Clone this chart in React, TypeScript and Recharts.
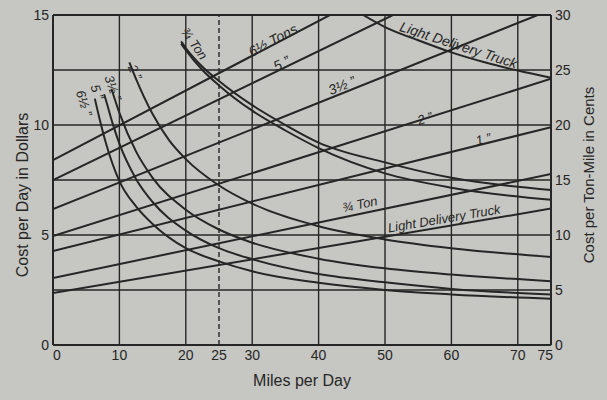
import React from 'react';
import { LineChart, Line, XAxis, YAxis, ReferenceLine, ReferenceDot } from 'recharts';

const INK = '#262626';
const PAPER = '#c6c7c2';
const FONT = '"Liberation Sans", "DejaVu Sans", sans-serif';

if (typeof document !== 'undefined') {
  document.body.style.margin = '0';
  document.body.style.background = PAPER;
}

// x axis: miles per day
const milesTicks = [0, 10, 20, 25, 30, 40, 50, 60, 70, 75];
const milesGrid = [10, 20, 30, 40, 50, 60, 70];
const milesDashed = [25];
// left axis: cost per day in dollars
const dollarTicks = [0, 5, 10, 15];
const dollarGrid = [2.5, 5, 7.5, 10, 12.5, 15];
// right axis: cost per ton-mile in cents
const centTicks = [0, 5, 10, 15, 20, 25, 30];

// Cost per day (dollars) — straight lines
const dayTons6h = [{ m: 0, v: 8.4 }, { m: 41.7, v: 15 }];
const dayTons5 = [{ m: 0, v: 7.5 }, { m: 51.2, v: 15 }];
const dayTons3h = [{ m: 0, v: 6.18 }, { m: 73, v: 15 }];
const dayTons2 = [{ m: 0, v: 4.95 }, { m: 75, v: 12.1 }];
const dayTons1 = [{ m: 0, v: 4.27 }, { m: 75, v: 9.9 }];
const dayTons34 = [{ m: 0, v: 3.05 }, { m: 75, v: 7.77 }];
const dayLDT = [{ m: 0, v: 2.36 }, { m: 75, v: 6.2 }];

// Cost per ton-mile (cents) — curves
const tmTons6h = [
  { m: 6.3, v: 22.4 }, { m: 7, v: 20.6 }, { m: 8, v: 18.3 }, { m: 10, v: 14.9 },
  { m: 12.5, v: 12.6 }, { m: 15, v: 11.0 }, { m: 20, v: 8.8 }, { m: 25, v: 7.6 },
  { m: 30, v: 6.7 }, { m: 40, v: 5.65 }, { m: 50, v: 5.0 }, { m: 60, v: 4.6 }, { m: 75, v: 4.2 },
];
const tmTons5 = [
  { m: 7.7, v: 22.8 }, { m: 8, v: 22.2 }, { m: 9, v: 20.1 }, { m: 10, v: 18.3 },
  { m: 12.5, v: 15.1 }, { m: 15, v: 13.0 }, { m: 20, v: 10.4 }, { m: 25, v: 8.8 },
  { m: 30, v: 7.8 }, { m: 40, v: 6.45 }, { m: 50, v: 5.7 }, { m: 60, v: 5.1 }, { m: 75, v: 4.6 },
];
const tmTons3h = [
  { m: 8.8, v: 23.3 }, { m: 10, v: 21.1 }, { m: 12.5, v: 17.6 }, { m: 15, v: 15.2 },
  { m: 20, v: 12.3 }, { m: 25, v: 10.5 }, { m: 30, v: 9.3 }, { m: 40, v: 7.85 },
  { m: 50, v: 6.97 }, { m: 60, v: 6.4 }, { m: 75, v: 5.8 },
];
const tmTons2 = [
  { m: 11.5, v: 25.7 }, { m: 12.5, v: 24.2 }, { m: 15, v: 21.0 }, { m: 17.5, v: 18.6 },
  { m: 20, v: 16.9 }, { m: 25, v: 14.5 }, { m: 30, v: 12.85 }, { m: 40, v: 10.8 },
  { m: 50, v: 9.6 }, { m: 60, v: 8.8 }, { m: 75, v: 8.0 },
];
const tmTons1 = [
  { m: 19.3, v: 27.4 }, { m: 20, v: 26.8 }, { m: 22.5, v: 25.0 }, { m: 25, v: 23.6 },
  { m: 30, v: 21.3 }, { m: 35, v: 19.5 }, { m: 40, v: 17.9 }, { m: 50, v: 15.6 },
  { m: 60, v: 14.3 }, { m: 75, v: 13.2 },
];
const tmTons34 = [
  { m: 19.3, v: 27.6 }, { m: 20, v: 27.0 }, { m: 22.5, v: 25.3 }, { m: 25, v: 24.0 },
  { m: 30, v: 21.8 }, { m: 35, v: 20.0 }, { m: 40, v: 18.4 }, { m: 50, v: 16.6 },
  { m: 60, v: 15.2 }, { m: 75, v: 14.1 },
];
const tmLDT = [
  { m: 46.7, v: 30 }, { m: 50, v: 28.9 }, { m: 55, v: 27.7 }, { m: 60, v: 26.6 },
  { m: 65, v: 25.7 }, { m: 70, v: 24.95 }, { m: 75, v: 24.3 },
];

const dayLines = [dayTons6h, dayTons5, dayTons3h, dayTons2, dayTons1, dayTons34, dayLDT];
const tonMileCurves = [tmTons6h, tmTons5, tmTons3h, tmTons2, tmTons1, tmTons34, tmLDT];

// in-chart annotations (data coordinates on the left axis)
const notes = [
  { text: '6½ Tons', m: 33.1, v: 13.86, angle: -28, size: 14 },
  { text: '5  ”', m: 34.4, v: 12.8, angle: -26, size: 14 },
  { text: '3½ ”', m: 43.5, v: 11.8, angle: -22, size: 14 },
  { text: '2  ”', m: 56, v: 10.3, angle: -17.5, size: 13 },
  { text: '1  ”', m: 64.8, v: 9.36, angle: -14, size: 13 },
  { text: '¾ Ton', m: 46.2, v: 6.4, angle: -12, size: 13 },
  { text: 'Light Delivery Truck', m: 58.9, v: 5.75, angle: -9.6, size: 13 },
  { text: 'Light Delivery Truck', m: 61.1, v: 13.64, angle: 18, size: 14 },
  { text: '¾ Ton', m: 21.3, v: 13.7, angle: 55, size: 13 },
  { text: '2  ”', m: 12.35, v: 12.4, angle: 65, size: 13 },
  { text: '3½ ”', m: 9.04, v: 11.68, angle: 70, size: 13 },
  { text: '5  ”', m: 6.63, v: 11.5, angle: 70, size: 13 },
  { text: '6½ ”', m: 4.67, v: 11.0, angle: 72, size: 13 },
];

const XTitle = (props: any) => {
  const vb = props.viewBox || {};
  return (
    <text x={vb.x + vb.width / 2} y={vb.y + 35} textAnchor="middle" dominantBaseline="central"
      fill={INK} fontSize={16} fontFamily={FONT}>Miles per Day</text>
  );
};
const LeftTitle = (props: any) => {
  const vb = props.viewBox || {};
  const x = vb.x + 22;
  const y = vb.y + vb.height / 2 + 15;
  return (
    <text x={x} y={y} transform={`rotate(-90 ${x} ${y})`} textAnchor="middle" dominantBaseline="central"
      fill={INK} fontSize={16} fontFamily={FONT}>Cost per Day in Dollars</text>
  );
};
const RightTitle = (props: any) => {
  const vb = props.viewBox || {};
  const x = vb.x + 37;
  const y = vb.y + vb.height / 2 - 5;
  return (
    <text x={x} y={y} transform={`rotate(-90 ${x} ${y})`} textAnchor="middle" dominantBaseline="central"
      fill={INK} fontSize={15} fontFamily={FONT}>Cost per Ton-Mile in Cents</text>
  );
};

const MilesTick = (props: any) => {
  const { x, y, payload } = props;
  const last = payload.value === 75;
  const first = payload.value === 0;
  return (
    <text x={last ? x + 2 : first ? x + 4 : x} y={y} dy="0.8em" textAnchor={last ? 'end' : 'middle'}
      fill={INK} fontSize={14} fontFamily={FONT}>{payload.value}</text>
  );
};

const tickStyle = { fill: INK, fontSize: 14, fontFamily: FONT };

export default function App() {
  return (
    <div style={{ width: 607, height: 400, background: PAPER }}>
      <LineChart width={607} height={400} margin={{ top: 15, right: 0, bottom: 10, left: 0 }}>
        <XAxis dataKey="m" type="number" domain={[0, 75]} ticks={milesTicks} allowDataOverflow
          stroke={INK} strokeWidth={2} tickLine={false} tickSize={0} tickMargin={4} tick={<MilesTick />}
          height={45} label={(p: any) => <XTitle {...p} />} />
        <YAxis yAxisId="left" domain={[0, 15]} ticks={dollarTicks} allowDataOverflow width={53}
          stroke={INK} strokeWidth={2} tickLine={false} tickSize={0} tickMargin={4} tick={tickStyle}
          label={(p: any) => <LeftTitle {...p} />} />
        <YAxis yAxisId="right" orientation="right" domain={[0, 30]} ticks={centTicks} allowDataOverflow width={56}
          stroke={INK} strokeWidth={2} tickLine={false} tickSize={0} tickMargin={4} tick={tickStyle}
          label={(p: any) => <RightTitle {...p} />} />
        {dollarGrid.map((y) => (
          <ReferenceLine key={`h${y}`} yAxisId="left" y={y} stroke={INK} strokeWidth={y === 15 ? 2 : 1.4} />
        ))}
        {milesGrid.map((x) => (
          <ReferenceLine key={`v${x}`} yAxisId="left" x={x} stroke={INK} strokeWidth={1.4} />
        ))}
        {milesDashed.map((x) => (
          <ReferenceLine key={`d${x}`} yAxisId="left" x={x} stroke={INK} strokeWidth={1.4} strokeDasharray="5 3" />
        ))}
        {dayLines.map((d, i) => (
          <Line key={`day${i}`} yAxisId="left" data={d} dataKey="v" type="linear" stroke={INK}
            strokeWidth={2} dot={false} activeDot={false} isAnimationActive={false} />
        ))}
        {tonMileCurves.map((d, i) => (
          <Line key={`tm${i}`} yAxisId="right" data={d} dataKey="v" type="monotone" stroke={INK}
            strokeWidth={2} dot={false} activeDot={false} isAnimationActive={false} />
        ))}
        {notes.map((n, i) => (
          <ReferenceDot key={`n${i}`} yAxisId="left" x={n.m} y={n.v} r={0} ifOverflow="visible"
            shape={(p: any) => (
              <text x={p.cx} y={p.cy} transform={`rotate(${n.angle} ${p.cx} ${p.cy})`} textAnchor="middle"
                dominantBaseline="central" fill={INK} fontSize={n.size} fontFamily={FONT}
                fontStyle="italic">{n.text}</text>
            )} />
        ))}
      </LineChart>
    </div>
  );
}
